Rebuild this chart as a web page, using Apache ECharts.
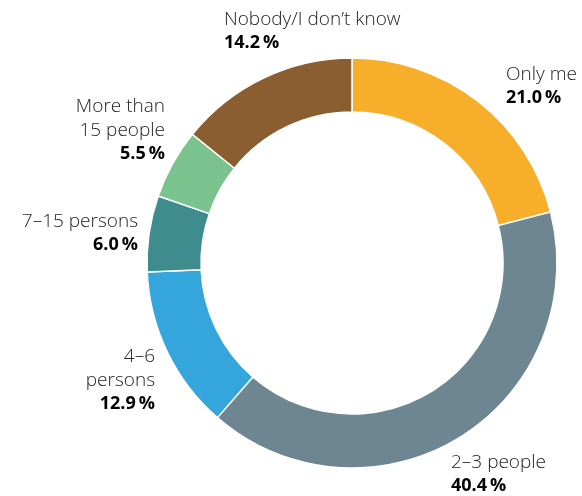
<!DOCTYPE html>
<html>
<head>
<meta charset="utf-8">
<script src="https://cdn.jsdelivr.net/npm/echarts@6/dist/echarts.min.js"></script>
<style>
html,body{margin:0;padding:0;background:#fff;}
#chart{width:582px;height:496px;}
</style>
</head>
<body>
<div id="chart"></div>
<script>
const categories = ['Only me', '2–3 people', '4–6\npersons', '7–15 persons', 'More than\n15 people', 'Nobody/I don’t know'];
const values = [21.0, 40.4, 12.9, 6.0, 5.5, 14.2];
const colors = ['#F7AE2A', '#6E8592', '#35A6DC', '#3F8C8F', '#7BC38E', '#8B5E31'];

// label anchor: [x, top y, align]
const labelPos = [
  [506, 63, 'left'],
  [451, 451, 'left'],
  [155, 345, 'right'],
  [138, 210, 'right'],
  [165, 95, 'right'],
  [224, 8, 'left']
];

const chart = echarts.init(document.getElementById('chart'));
chart.setOption({
  animation: false,
  series: [{
    type: 'pie',
    center: [352, 263],
    radius: [151, 205],
    startAngle: 90,
    clockwise: true,
    avoidLabelOverlap: false,
    itemStyle: { borderColor: '#fff', borderWidth: 1.5 },
    labelLine: { show: false },
    label: {
      show: true,
      position: 'outside',
      formatter: function (p) {
        return '{n|' + p.name + '}\n{v|' + p.value.toFixed(1) + '\u2009%}';
      },
      rich: {
        n: { fontFamily: 'Open Sans', fontSize: 19, fontWeight: 300, color: '#222', lineHeight: 23.5 },
        v: { fontFamily: 'Open Sans', fontSize: 18, fontWeight: 'bold', color: '#000', lineHeight: 23.5 }
      }
    },
    labelLayout: function (params) {
      const p = labelPos[params.dataIndex];
      return { x: p[0], y: p[1], align: p[2], verticalAlign: 'top' };
    },
    data: categories.map(function (c, i) {
      return { name: c, value: values[i], itemStyle: { color: colors[i] } };
    })
  }]
});
</script>
</body>
</html>
